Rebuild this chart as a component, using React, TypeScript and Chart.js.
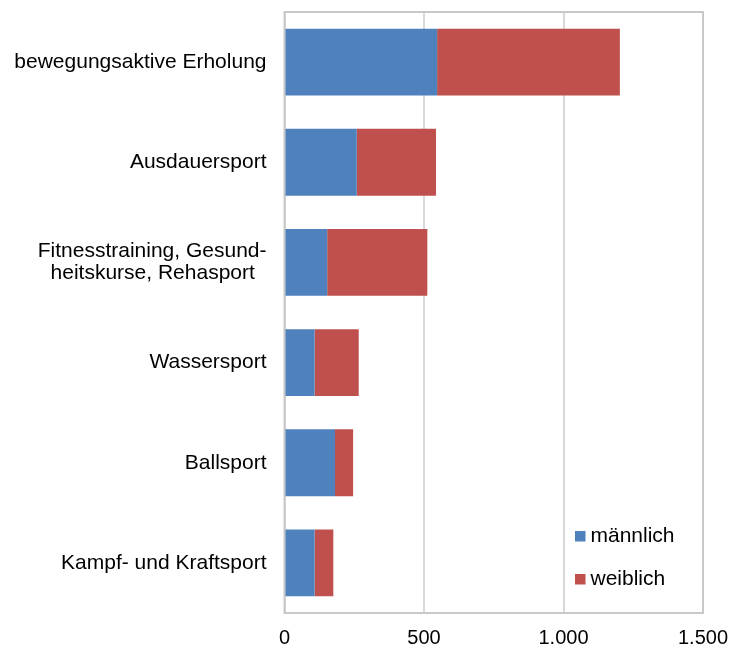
import React, { useEffect, useRef } from "react";
import { Chart, registerables } from "chart.js";

Chart.register(...registerables);

const categories: (string | string[])[] = [
  "bewegungsaktive Erholung",
  "Ausdauersport",
  ["Fitnesstraining, Gesund-", "heitskurse, Rehasport  "],
  "Wassersport",
  "Ballsport",
  "Kampf- und Kraftsport",
];
const maleValues = [547, 259, 153, 108, 181, 108];
const femaleValues = [655, 284, 359, 158, 65, 67];
const seriesNames = ["männlich", "weiblich"];
const seriesColors = ["#4f81bd", "#c0504d"];
const xTicks = [0, 500, 1000, 1500];

const FONT = "'Liberation Sans', Arial, sans-serif";

const fmt = (v: number) => String(v).replace(/\B(?=(\d{3})+(?!\d))/g, ".");

const framePlugin = {
  id: "frame",
  beforeDatasetsDraw(chart: any) {
    const { ctx, chartArea: a } = chart;
    ctx.save();
    ctx.strokeStyle = "#c8c8c8";
    ctx.lineWidth = 2;
    ctx.strokeRect(a.left, a.top, a.right - a.left, a.bottom - a.top);
    ctx.restore();
  },
};

const legendPlugin = {
  id: "innerLegend",
  afterDraw(chart: any) {
    const { ctx, chartArea: a } = chart;
    ctx.save();
    ctx.font = `21px ${FONT}`;
    ctx.textBaseline = "middle";
    ctx.textAlign = "left";
    const rows = [a.bottom - 82, a.bottom - 39];
    chart.data.datasets.forEach((ds: any, i: number) => {
      const x = a.right - 128;
      const y = rows[i];
      ctx.fillStyle = ds.backgroundColor;
      ctx.fillRect(x, y, 10.5, 10.5);
      ctx.fillStyle = "#000";
      ctx.fillText(ds.label, x + 15.5, y + 5.5);
    });
    ctx.restore();
  },
};

export default function App() {
  const ref = useRef<HTMLCanvasElement | null>(null);
  useEffect(() => {
    if (!ref.current) return;
    const chart = new Chart(ref.current, {
      type: "bar",
      data: {
        labels: categories,
        datasets: [
          {
            label: seriesNames[0],
            data: maleValues,
            backgroundColor: seriesColors[0],
            categoryPercentage: 0.667,
            barPercentage: 1,
          },
          {
            label: seriesNames[1],
            data: femaleValues,
            backgroundColor: seriesColors[1],
            categoryPercentage: 0.667,
            barPercentage: 1,
          },
        ],
      },
      options: {
        indexAxis: "y",
        responsive: false,
        animation: false,
        layout: { padding: { top: 12, right: 28, bottom: 0, left: 0 } },
        plugins: {
          legend: { display: false },
          tooltip: { enabled: false },
        },
        scales: {
          x: {
            stacked: true,
            min: 0,
            max: 1500,
            afterBuildTicks: (scale: any) => {
              scale.ticks = xTicks.map((v) => ({ value: v }));
            },
            afterFit: (scale: any) => {
              scale.height = 35;
              scale.paddingLeft = 0;
              scale.paddingRight = 0;
            },
            grid: { color: "#d9d9d9", lineWidth: 2, drawTicks: false },
            border: { display: false },
            ticks: {
              padding: 13,
              color: "#000",
              font: { family: FONT, size: 20 },
              maxRotation: 0,
              callback: (v: any) => fmt(Number(v)),
            },
          },
          y: {
            stacked: true,
            afterFit: (scale: any) => {
              scale.width = 284.5;
              scale.paddingTop = 0;
              scale.paddingBottom = 0;
            },
            grid: { display: false, drawTicks: false },
            border: { display: false },
            ticks: {
              padding: 18,
              color: "#000",
              font: { family: FONT, size: 21, lineHeight: 1.05 },
            },
          },
        },
      },
      plugins: [framePlugin, legendPlugin],
    });
    return () => chart.destroy();
  }, []);
  return (
    <div style={{ position: "absolute", left: 0, top: 0, width: 731, height: 648, background: "#fff" }}>
      <canvas ref={ref} width={731} height={648} style={{ display: "block" }} />
    </div>
  );
}
